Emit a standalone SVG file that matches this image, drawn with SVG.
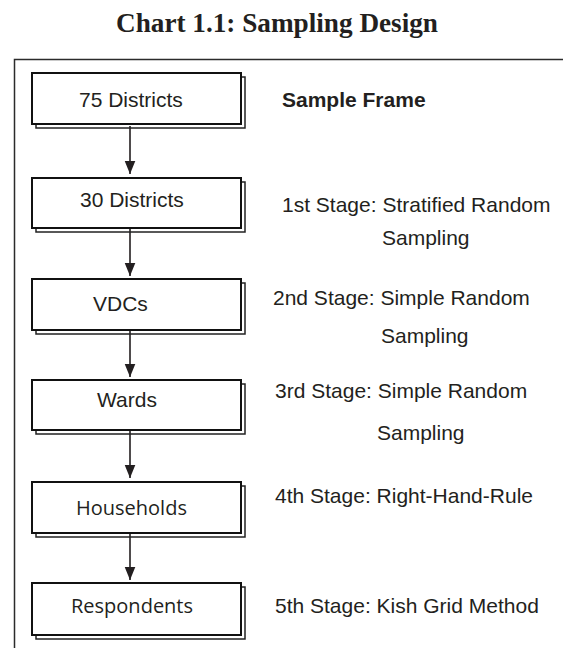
<svg xmlns="http://www.w3.org/2000/svg" width="563" height="648" viewBox="0 0 563 648">
  <style>
    .title { font-family: "Liberation Serif", "Times New Roman", serif; font-weight: bold; font-size: 28px; fill: #231f20; }
    .box { fill: #ffffff; stroke: #111111; stroke-width: 2; }
    .shadow { fill: none; stroke: #222222; stroke-width: 1.5; }
    .lbl { font-family: "Liberation Sans", Arial, sans-serif; font-size: 21px; fill: #231f20; }
    .lbl2 { font-family: "Open Sans", "Noto Sans", sans-serif; font-size: 20px; fill: #231f20; }
    .note { font-family: "Liberation Sans", Arial, sans-serif; font-size: 21px; fill: #231f20; }
    .head { font-family: "Liberation Sans", Arial, sans-serif; font-size: 21px; font-weight: bold; fill: #231f20; }
    .conn { stroke: #231f20; stroke-width: 1.6; fill: none; marker-end: url(#arrow); }
  </style>
  <defs>
    <marker id="arrow" viewBox="0 0 13 16" refX="13" refY="6.5" markerWidth="13" markerHeight="16" markerUnits="userSpaceOnUse" orient="auto">
      <path d="M0,0 L16,6.5 L0,13 Z" fill="#231f20" transform="translate(-3,0)"/>
    </marker>
  </defs>

  <rect width="563" height="648" fill="#ffffff"/>

  <text class="title" x="116" y="32" textLength="322" lengthAdjust="spacingAndGlyphs">Chart 1.1: Sampling Design</text>

  <!-- outer frame, running past the right and bottom edges -->
  <rect x="14.5" y="59.5" width="600" height="700" fill="none" stroke="#2b2b2b" stroke-width="1.5"/>

  <g id="connectors">
    <line class="conn" x1="130" y1="126" x2="130" y2="174"/>
    <line class="conn" x1="130" y1="229" x2="130" y2="276"/>
    <line class="conn" x1="130" y1="331" x2="130" y2="377"/>
    <line class="conn" x1="130" y1="431" x2="130" y2="478"/>
    <line class="conn" x1="130" y1="534" x2="130" y2="580"/>
  </g>

  <g id="n75">
    <rect class="shadow" x="36" y="77" width="209" height="51"/>
    <rect class="box" x="32" y="73" width="209" height="51"/>
    <text class="lbl" x="79" y="107">75 Districts</text>
  </g>
  <g id="n30">
    <rect class="shadow" x="36" y="182" width="209" height="50"/>
    <rect class="box" x="32" y="178" width="209" height="50"/>
    <text class="lbl" x="80" y="207">30 Districts</text>
  </g>
  <g id="vdcs">
    <rect class="shadow" x="36" y="283" width="209" height="51"/>
    <rect class="box" x="32" y="279" width="209" height="51"/>
    <text class="lbl" x="93" y="311">VDCs</text>
  </g>
  <g id="wards">
    <rect class="shadow" x="36" y="384" width="209" height="50"/>
    <rect class="box" x="32" y="380" width="209" height="50"/>
    <text class="lbl" x="97" y="407">Wards</text>
  </g>
  <g id="households">
    <rect class="shadow" x="36" y="486" width="209" height="51"/>
    <rect class="box" x="32" y="482" width="209" height="51"/>
    <text class="lbl2" x="76" y="515">Households</text>
  </g>
  <g id="respondents">
    <rect class="shadow" x="36" y="587" width="209" height="52"/>
    <rect class="box" x="32" y="583" width="209" height="52"/>
    <text class="lbl2" x="71" y="613">Respondents</text>
  </g>

  <g id="stage-notes">
    <text class="head" x="282" y="107">Sample Frame</text>
    <text class="note" x="282" y="212">1st Stage: Stratified Random</text>
    <text class="note" x="382" y="245">Sampling</text>
    <text class="note" x="273" y="305">2nd Stage: Simple Random</text>
    <text class="note" x="381" y="343">Sampling</text>
    <text class="note" x="275" y="398">3rd Stage: Simple Random</text>
    <text class="note" x="377" y="440">Sampling</text>
    <text class="note" x="275" y="503">4th Stage: Right-Hand-Rule</text>
    <text class="note" x="275" y="613">5th Stage: Kish Grid Method</text>
  </g>
</svg>
